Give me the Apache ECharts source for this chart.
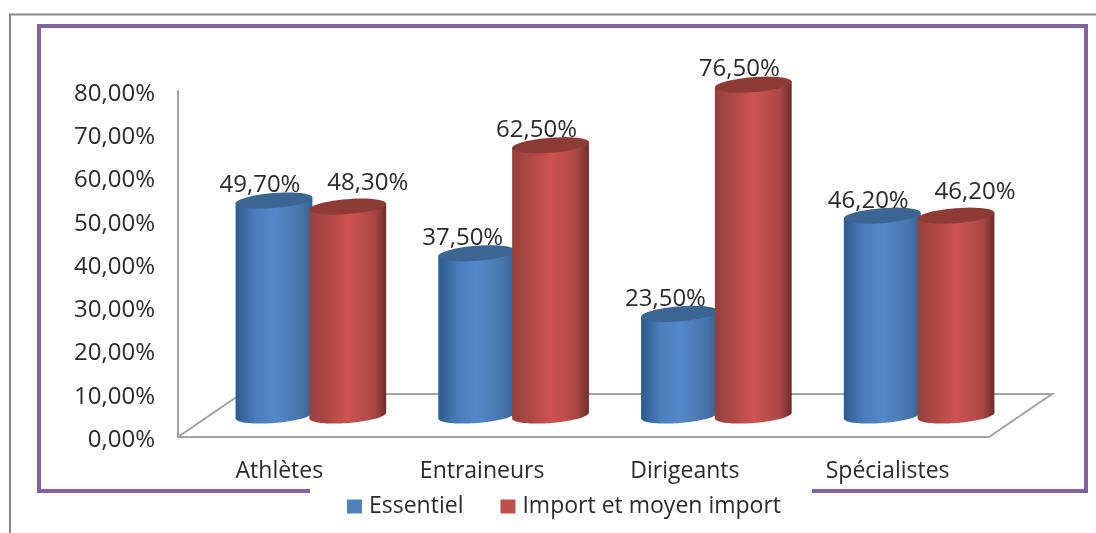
<!DOCTYPE html>
<html>
<head>
<meta charset="utf-8">
<style>html,body{margin:0;padding:0;background:#fff}#chart{width:1096px;height:533px}</style>
<script src="https://cdn.jsdelivr.net/npm/echarts@6/dist/echarts.min.js"></script>
</head>
<body>
<div id="chart"></div>
<script>
// Survey results by group, in percent
const categories = ['Athlètes', 'Entraineurs', 'Dirigeants', 'Spécialistes'];
const essentiel = [49.7, 37.5, 23.5, 46.2];
const importMoyen = [48.3, 62.5, 76.5, 46.2];
const seriesNames = ['Essentiel', 'Import et moyen import'];
const yTicks = { min: 0, max: 80, interval: 10 };

// Oblique projection of the floor and the cylinders
const DEPTH_X = 63, DEPTH_Y = 43;
const HALF_GAP = 0.182, RADIUS = 0.19;     // fractions of a category band
const RY = 7.5, TILT = 4.5 * Math.PI / 180;
const FONT = '"Open Sans", sans-serif';
const TEXT = '#2b2b2b', AXIS = '#a3a3a3';

// Labels moved clear of their neighbours: "series:category" -> [dx, dy]
const labelShift = { '1:0': [34, -8], '1:3': [33, -9] };

const shades = [
  { stops: ['#2d5a8e', '#4a7cb8', '#5488cc', '#4f80bd', '#4775aa', '#32608f'], top: '#3b6593' },
  { stops: ['#95403d', '#b04846', '#cc5351', '#c04e4c', '#a84644', '#6c2d2b'], top: '#8e3b38' }
];

function ellipsePoint(cx, cy, rx, t) {
  const x = rx * Math.cos(t), y = RY * Math.sin(t);
  return [cx + x * Math.cos(TILT) + y * Math.sin(TILT),
          cy - x * Math.sin(TILT) + y * Math.cos(TILT)];
}

function cylinder(seriesIndex) {
  return function (params, api) {
    const cat = api.value(0), value = api.value(1);
    const base = api.coord([cat, 0]);
    const top = api.coord([cat, value]);
    const band = api.size([1, 0])[0];
    const rx = band * RADIUS;
    const cx = base[0] + DEPTH_X / 2 + (seriesIndex ? 1 : -1) * band * HALF_GAP;
    const by = base[1] - DEPTH_Y / 2, ty = top[1] - DEPTH_Y / 2;
    const body = [], lid = [];
    const N = 48;
    for (let i = 0; i <= N; i++) {
      body.push(ellipsePoint(cx, by, rx, Math.PI * i / N));
    }
    body.reverse();
    body.unshift(ellipsePoint(cx, ty, rx, Math.PI));
    body.push(ellipsePoint(cx, ty, rx, 0));
    for (let i = 0; i < N; i++) {
      lid.push(ellipsePoint(cx, ty, rx, 2 * Math.PI * i / N));
    }
    const shade = shades[seriesIndex];
    const offsets = [0, 0.25, 0.5, 0.65, 0.85, 1];
    const gradient = new echarts.graphic.LinearGradient(0, 0, 1, 0,
      shade.stops.map((c, i) => ({ offset: offsets[i], color: c })));
    const shift = labelShift[seriesIndex + ':' + cat] || [0, 0];
    return {
      type: 'group',
      children: [
        { type: 'polygon', shape: { points: body }, style: { fill: gradient } },
        { type: 'polygon', shape: { points: lid }, style: { fill: shade.top } },
        {
          type: 'text', z2: 10,
          style: {
            x: cx - 14 + shift[0], y: ty - 15 + shift[1],
            text: value.toFixed(2).replace('.', ',') + '%',
            fill: TEXT, font: '24px ' + FONT, align: 'center', verticalAlign: 'middle'
          }
        }
      ]
    };
  };
}

function floor(params, api) {
  const band = api.size([1, 0])[0];
  const first = api.coord([0, 0]), last = api.coord([categories.length - 1, 0]);
  const a = [first[0] - band / 2, first[1]], b = [last[0] + band / 2, last[1]];
  return {
    type: 'polyline',
    shape: { points: [a, [a[0] + DEPTH_X, a[1] - DEPTH_Y], [b[0] + DEPTH_X, b[1] - DEPTH_Y], b] },
    style: { stroke: AXIS, lineWidth: 2, fill: null }
  };
}

const chart = echarts.init(document.getElementById('chart'), null, { renderer: 'canvas' });
chart.setOption({
  animation: false,
  backgroundColor: '#fff',
  textStyle: { fontFamily: FONT },
  graphic: [
    { type: 'polyline', z: -2, shape: { points: [[10, 533], [10, 14.5], [1096, 14.5]] },
      style: { stroke: '#888888', lineWidth: 2, fill: null } },
    { type: 'rect', z: -1, shape: { x: 39, y: 26, width: 1047, height: 465 },
      style: { stroke: '#8064a2', lineWidth: 4, fill: null } }
  ],
  grid: { left: 178, right: 107, top: 91, bottom: 96 },
  legend: {
    data: seriesNames,
    left: 310, top: 486,
    padding: [9, 31, 8, 37],
    backgroundColor: '#fff',
    icon: 'rect', itemWidth: 15, itemHeight: 14, itemGap: 37,
    textStyle: { color: TEXT, fontSize: 23, fontFamily: FONT, padding: [0, 0, 0, 2] }
  },
  xAxis: {
    type: 'category', data: categories,
    axisTick: { show: false },
    axisLine: { lineStyle: { color: AXIS, width: 2 } },
    axisLabel: { color: TEXT, fontSize: 23, fontFamily: FONT, margin: 23 },
    splitLine: { show: false }
  },
  yAxis: {
    type: 'value', min: yTicks.min, max: yTicks.max, interval: yTicks.interval,
    axisLine: { show: true, lineStyle: { color: AXIS, width: 2 } },
    axisTick: { show: false },
    splitLine: { show: false },
    axisLabel: {
      margin: 23,
      formatter: v => '{tick|' + v.toFixed(2).replace('.', ',') + '%}',
      rich: { tick: { color: TEXT, fontSize: 24, fontFamily: FONT, padding: [6, 0, 0, 0] } }
    }
  },
  series: [
    { name: 'floor', type: 'custom', coordinateSystem: 'cartesian2d', z: 1, silent: true,
      renderItem: floor, data: [[0, 0]], encode: { x: 0, y: 1 }, clip: false },
    { name: seriesNames[0], type: 'custom', coordinateSystem: 'cartesian2d', z: 2,
      renderItem: cylinder(0), itemStyle: { color: '#4f81bd' }, clip: false,
      encode: { x: 0, y: 1 }, data: essentiel.map((v, i) => [i, v]) },
    { name: seriesNames[1], type: 'custom', coordinateSystem: 'cartesian2d', z: 3,
      renderItem: cylinder(1), itemStyle: { color: '#c0504d' }, clip: false,
      encode: { x: 0, y: 1 }, data: importMoyen.map((v, i) => [i, v]) }
  ]
});
</script>
</body>
</html>
